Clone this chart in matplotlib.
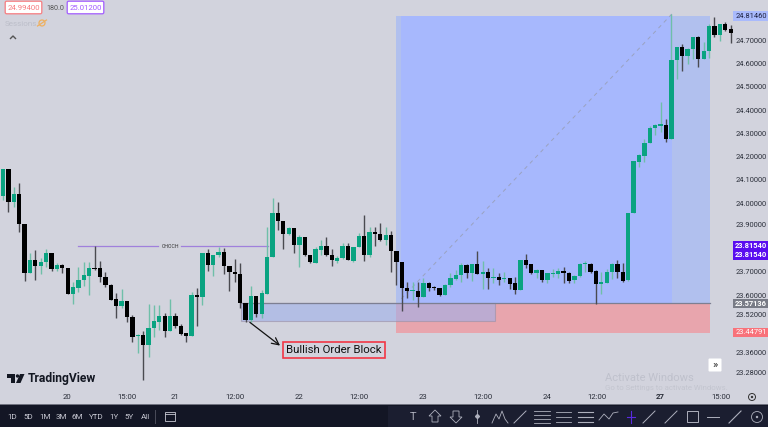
import matplotlib
matplotlib.use("Agg")
import matplotlib.pyplot as plt
from matplotlib.patches import Rectangle, FancyBboxPatch, Polygon, Circle
import numpy as np

plt.rcParams['font.family'] = ['Roboto', 'DejaVu Sans']

opens = [24.033,24.149,24.007,24.042,23.913,23.702,23.758,23.732,23.749,23.788,23.719,23.737,23.724,23.612,23.638,23.672,23.689,23.724,23.724,23.685,
 23.651,23.590,23.560,23.582,23.513,23.431,23.436,23.392,23.466,23.491,23.517,23.453,23.517,23.474,23.444,23.431,23.608,23.599,23.788,23.737,
 23.780,23.792,23.732,23.706,23.698,23.573,23.500,23.603,23.526,23.612,23.771,23.960,23.926,23.870,23.896,23.823,23.857,23.780,23.745,23.801,
 23.818,23.780,23.754,23.767,23.818,23.754,23.814,23.861,23.780,23.878,23.870,23.844,23.866,23.797,23.749,23.638,23.625,23.625,23.599,23.659,
 23.642,23.638,23.608,23.651,23.676,23.694,23.737,23.702,23.741,23.698,23.706,23.681,23.685,23.676,23.681,23.659,23.629,23.758,23.741,23.702,
 23.715,23.672,23.698,23.698,23.711,23.702,23.672,23.689,23.741,23.741,23.711,23.655,23.659,23.706,23.741,23.706,23.672,23.960,24.179,24.205,
 24.261,24.326,24.334,24.338,24.278,24.618,24.674,24.635,24.665,24.717,24.622,24.657,24.764,24.726,24.773,24.751]
highs = [24.149,24.149,24.072,24.089,23.913,23.788,23.801,23.767,23.805,23.788,23.745,23.741,23.724,23.663,23.728,23.749,23.749,23.818,23.754,23.706,
 23.655,23.616,23.633,23.582,23.522,23.440,23.453,23.569,23.565,23.565,23.530,23.590,23.530,23.483,23.444,23.620,23.638,23.788,23.805,23.780,
 23.814,23.810,23.732,23.762,23.745,23.573,23.646,23.603,23.629,23.900,24.025,24.007,23.926,23.900,23.896,23.866,23.857,23.780,23.814,23.844,
 23.857,23.805,23.775,23.831,23.831,23.814,23.874,23.951,23.900,23.900,23.917,23.900,23.883,23.797,23.749,23.663,23.663,23.663,23.681,23.663,
 23.646,23.638,23.655,23.702,23.715,23.745,23.741,23.741,23.797,23.754,23.724,23.724,23.702,23.706,23.681,23.685,23.758,23.784,23.741,23.719,
 23.715,23.702,23.719,23.724,23.728,23.706,23.694,23.745,23.754,23.745,23.715,23.706,23.719,23.745,23.758,23.745,23.960,24.184,24.214,24.278,
 24.334,24.343,24.437,24.364,24.816,24.674,24.687,24.670,24.717,24.721,24.695,24.773,24.803,24.773,24.781,24.769]
lows = [24.016,23.964,23.986,23.878,23.668,23.702,23.672,23.698,23.728,23.711,23.711,23.702,23.612,23.569,23.620,23.646,23.608,23.715,23.663,23.642,
 23.586,23.509,23.552,23.491,23.405,23.358,23.242,23.341,23.427,23.457,23.427,23.453,23.466,23.436,23.405,23.431,23.474,23.565,23.711,23.689,
 23.771,23.698,23.625,23.663,23.552,23.491,23.491,23.513,23.509,23.612,23.771,23.887,23.805,23.866,23.788,23.728,23.775,23.745,23.745,23.780,
 23.775,23.732,23.745,23.762,23.758,23.749,23.814,23.754,23.771,23.818,23.840,23.823,23.706,23.651,23.539,23.595,23.586,23.556,23.599,23.625,
 23.629,23.603,23.608,23.642,23.672,23.663,23.681,23.668,23.698,23.633,23.633,23.659,23.651,23.663,23.633,23.612,23.629,23.724,23.698,23.681,
 23.663,23.659,23.685,23.681,23.659,23.659,23.659,23.685,23.706,23.702,23.569,23.612,23.659,23.676,23.681,23.663,23.668,23.960,24.158,24.179,
 24.261,24.296,24.308,24.265,24.278,24.536,24.571,24.601,24.622,24.588,24.622,24.627,24.717,24.700,24.743,24.691]
closes = [24.149,24.007,24.042,23.913,23.702,23.758,23.732,23.749,23.788,23.719,23.737,23.724,23.612,23.642,23.672,23.694,23.724,23.719,23.685,23.651,
 23.586,23.560,23.582,23.513,23.427,23.436,23.392,23.466,23.496,23.517,23.453,23.517,23.474,23.440,23.431,23.608,23.599,23.788,23.737,23.780,
 23.792,23.732,23.706,23.698,23.573,23.500,23.603,23.526,23.616,23.771,23.960,23.926,23.870,23.896,23.823,23.857,23.780,23.749,23.805,23.818,
 23.780,23.758,23.767,23.818,23.758,23.814,23.861,23.780,23.878,23.870,23.844,23.866,23.797,23.749,23.638,23.625,23.629,23.599,23.659,23.638,
 23.638,23.608,23.651,23.681,23.694,23.737,23.702,23.741,23.698,23.706,23.681,23.685,23.672,23.681,23.655,23.629,23.758,23.737,23.702,23.715,
 23.672,23.702,23.702,23.711,23.702,23.668,23.689,23.741,23.745,23.706,23.655,23.663,23.706,23.741,23.706,23.668,23.960,24.184,24.210,24.261,
 24.326,24.338,24.343,24.278,24.618,24.674,24.635,24.665,24.717,24.622,24.657,24.764,24.726,24.773,24.747,24.734]

price_ticks = [24.7,24.6,24.5,24.4,24.3,24.2,24.1,24.0,23.9,23.7,23.6,23.52,23.36,23.28]
time_labels = ["20","15:00","21","12:00","22","12:00","23","12:00","24","12:00","27","15:00"]
time_pos = [11.9,23,31.9,43,54.9,66,77.9,89,101,110.2,122,133.2]
range_labels = ["1D","5D","1M","3M","6M","YTD","1Y","5Y","All"]
range_x = [12,28,45,61,77,96,114,129,145]

zone_top, entry, stop = 24.807, 23.5714, 23.444
ob_low = 23.496
choch = 23.818

BG = "#d2d3dd"
GREEN = "#0aa381"
fig = plt.figure(figsize=(7.6801,4.2701), dpi=100, facecolor=BG)
ax = fig.add_axes([0,0,1,1], facecolor=BG)
ax.set_xlim(-0.557,141.93)
ax.set_ylim(23.040,24.876)
ax.axis("off")

X0, X1, X2, X3 = 72.9, 73.9, 124.1, 131.2
ax.add_patch(Rectangle((X0,entry),X3-X0,zone_top-entry,fc="#b1c0ee",ec="none",zorder=1))
ax.add_patch(Rectangle((X1,entry),X2-X1,zone_top-entry,fc="#a7b8fd",ec="none",zorder=1.1))
ax.add_patch(Rectangle((X0,stop),X3-X0,entry-stop,fc="#e8a5ad",ec="none",zorder=1))
ax.add_patch(Rectangle((44.2,ob_low),47.1,entry-ob_low,fc="#9fb0ea",alpha=0.6,ec="#9a8fa5",lw=0.8,zorder=1.3))
ax.plot([44.2,X3],[entry,entry],color="#7d7f92",lw=0.9,zorder=1.4)
ax.plot([73.9,124.1],[entry+0.02,24.816],color="#9aa2c0",lw=0.7,ls=(0,(4,4)),zorder=1.5)

ax.plot([13.9,28.8],[choch,choch],color="#a080dc",lw=0.9,zorder=2)
ax.plot([33.0,49.2],[choch,choch],color="#a080dc",lw=0.9,zorder=2)
ax.text(31.0,choch,"CHOCH",fontsize=3.8,color="#333",ha="center",va="center",zorder=2)

n = len(opens)
xs = np.arange(n)
o, h, l, c = map(np.array,(opens,highs,lows,closes))
up = c >= o
ax.vlines(xs[up],l[up],h[up],color="#6fbfa9",lw=1.0,zorder=3)
ax.vlines(xs[~up],l[~up],h[~up],color="#4a4a50",lw=1.0,zorder=3)
ax.bar(xs[up],(c-o)[up],bottom=o[up],width=0.8,color=GREEN,lw=0,zorder=4)
ax.bar(xs[~up],(c-o)[~up],bottom=o[~up],width=0.8,color="#000000",lw=0,zorder=4)

# arrow and annotation
ax.annotate("",xy=(51.4,23.39),xytext=(45.8,23.49),zorder=5,
            arrowprops=dict(arrowstyle="->,head_width=0.25,head_length=0.5",color="#111",lw=0.9,shrinkA=0,shrinkB=0))
ax.text(61.4,23.371,"Bullish Order Block",fontsize=8.2,color="#111",ha="center",va="center",zorder=6,
        bbox=dict(boxstyle="square,pad=0.28",fc=BG,ec="#f23645",lw=1.2))

# chrome in pixel space
p = fig.add_axes([0,0,1,1],facecolor="none")
p.set_xlim(0,768); p.set_ylim(427,0); p.axis("off")

# price axis
for t in price_ticks:
    ypx = {23.9:225.7,23.7:272.7,23.6:296,23.52:315,23.36:353,23.28:373}.get(t, (24.876-t)/0.0043+0.5)
    p.text(751.5,ypx,f"{t:.5f}",fontsize=5.4,color="#2a2e39",ha="center",va="center")

def tag(y,txt,fc,tc,w=35,h=9.5,weight="normal"):
    p.add_patch(Rectangle((733,y-h/2),w,h,fc=fc,ec="none",zorder=5))
    p.text(751,y,txt,fontsize=5.4,color=tc,ha="center",va="center",zorder=6,fontweight=weight)
tag(16,"24.81460","#a9bafc","#1d2140")
tag(245.5,"23.81540","#5a0df0","#ffffff",weight="bold")
tag(255,"23.81540","#5a0df0","#ffffff",weight="bold")
tag(303.5,"23.57136","#787b86","#ffffff",h=9,weight="bold")
tag(332.5,"23.44791","#f8727a","#ffffff",h=9)

# time axis
for lab,t in zip(time_labels,time_pos):
    xp = 3+5.39*t
    p.text(xp,396.5,lab,fontsize=5.6,color="#2a2e39",ha="center",va="center",
           fontweight="bold" if lab=="27" else "normal")
p.add_patch(Circle((752,397),3.5,fc="none",ec="#333",lw=0.7))
p.add_patch(Circle((752,397),1.2,fc="#333",ec="none"))

# toolbar
p.add_patch(Rectangle((0,405),768,22,fc="#131625",ec="none"))
p.add_patch(Rectangle((0,404),768,1.2,fc="#70727f",ec="none"))
p.add_patch(Rectangle((388,406),380,21,fc="#1b1e30",ec="none"))
for lab,xp in zip(range_labels,range_x):
    p.text(xp,416.5,lab,fontsize=5.8,color="#c8c9d3",ha="center",va="center")
p.plot([155,155],[410,423],color="#4a4c5a",lw=0.7)
p.add_patch(Rectangle((165,412),10,9,fc="none",ec="#c8c9d3",lw=0.6))
p.plot([165,175],[414.5,414.5],color="#c8c9d3",lw=0.6)

W = "#aeb0bd"
p.text(413,416.5,"T",fontsize=8,color=W,ha="center",va="center")
p.add_patch(Polygon([(435,410),(441,416),(438,416),(438,422),(432,422),(432,416),(429,416)],fc="none",ec=W,lw=0.6))
p.add_patch(Polygon([(456,423),(462,417),(459,417),(459,411),(453,411),(453,417),(450,417)],fc="none",ec=W,lw=0.6))
p.plot([477,477],[410,423],color=W,lw=0.6)
p.plot([477],[416.5],marker="D",ms=2,color=W)
p.plot([492,496,499,502,505,508],[423,414,419,411,419,423],color=W,lw=0.6)
p.plot([514,526],[423,411],color=W,lw=0.7)
for yy in (411,415,419,423):
    p.plot([534,550],[yy,yy],color=W,lw=0.6)
for yy in (412,417,422):
    p.plot([556,571],[yy,yy],color=W,lw=0.6)
    p.plot([578,593],[yy,yy],color=W,lw=0.8)
p.plot([599,604,609,613,618],[420,414,419,413,412],color=W,lw=0.6)
p.plot([627,635],[417,417],color="#5a2be0",lw=0.8)
p.plot([631,631],[411,423],color="#5a2be0",lw=0.8)
p.plot([643,655],[423,411],color=W,lw=0.7)
p.plot([665,677],[423,411],color=W,lw=0.7)
p.add_patch(Rectangle((687,411),11,11,fc="none",ec=W,lw=0.7))
p.plot([707,719],[417,417],color=W,lw=0.7)
p.plot([729,741],[423,411],color=W,lw=0.8)
p.add_patch(Circle((757,417),5.5,fc="none",ec=W,lw=0.6))
p.add_patch(Circle((757,417),1.2,fc=W,ec="none"))

# top-left legend
def box(x,w,txt,col):
    p.add_patch(FancyBboxPatch((x+1,2),w-2,11,boxstyle="round,pad=0.8,rounding_size=1.5",fc="#ffffff",ec=col,lw=0.9))
    p.text(x+w/2,8,txt,fontsize=5.6,color=col,ha="center",va="center")
box(5,37,"24.99400","#f77c80")
p.text(55,8,"180.0",fontsize=5.2,color="#555",ha="center",va="center")
box(67,37,"25.01200","#a25cff")
p.text(5,23.5,"Sessions",fontsize=5.8,color="#bcbec9",ha="left",va="center")
p.add_patch(Circle((42,23),3,fc="none",ec="#eeb060",lw=0.9))
p.plot([37.5,46.5],[26,20],color="#eeb060",lw=0.9)
p.plot([10.5,13,15.5],[38.5,36,38.5],color="#555",lw=1)

# TradingView logo
p.add_patch(Polygon([(7,374),(15,374),(15,383),(11,383),(11,378),(7,378)],fc="#131722",ec="none"))
p.add_patch(Circle((17.5,376),1.7,fc="#131722",ec="none"))
p.add_patch(Polygon([(20,374),(24.5,374),(20.5,383),(16,383)],fc="#131722",ec="none"))
p.text(28,378.5,"TradingView",fontsize=8.7,color="#131722",ha="left",va="center",fontweight="bold")

# scroll button
p.add_patch(FancyBboxPatch((709,359),12,12,boxstyle="round,pad=0.5,rounding_size=1",fc="#ffffff",ec="none"))
p.text(715,364.6,"»",fontsize=8,color="#222",ha="center",va="center")

# watermark
p.text(605,378,"Activate Windows",fontsize=8,color="#bfc1cc",ha="left",va="center",zorder=0.5)
p.text(605,388,"Go to Settings to activate Windows.",fontsize=5.6,color="#c3c5cf",ha="left",va="center",zorder=0.5)

fig.savefig("out.png",dpi=100,facecolor=BG)
